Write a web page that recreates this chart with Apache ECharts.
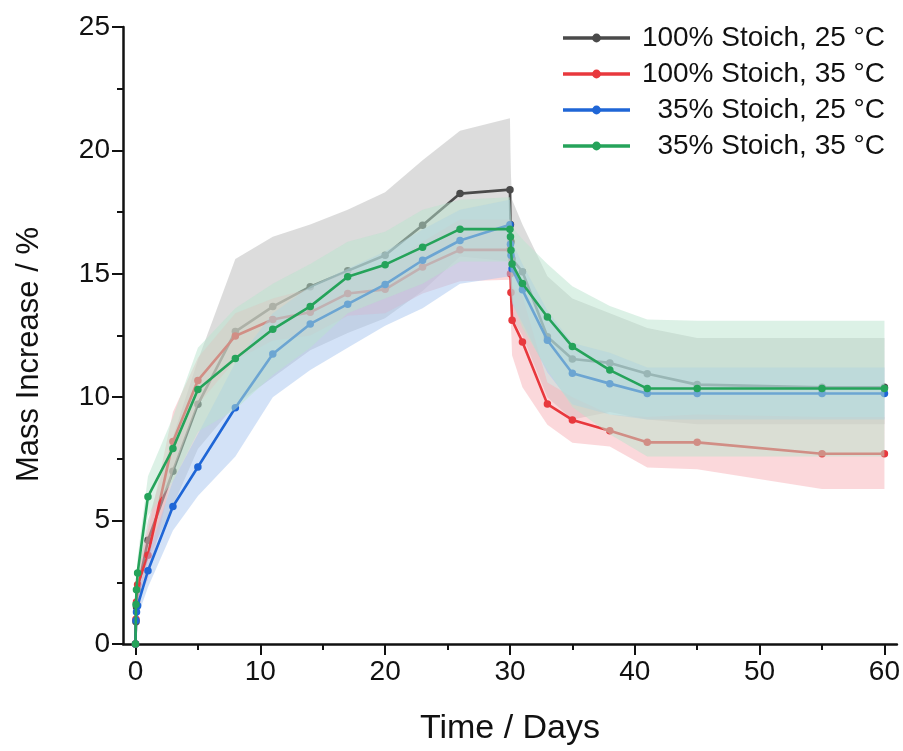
<!DOCTYPE html>
<html>
<head>
<meta charset="utf-8">
<script src="https://cdn.jsdelivr.net/npm/echarts@6/dist/echarts.min.js"></script>
<style>
  html, body { margin: 0; padding: 0; background: #fff; }
  #chart { width: 903px; height: 751px; }
</style>
</head>
<body>
<div id="chart"></div>
<script>
// Sampling times (days): uptake phase to day 30, then desorption to day 60
const days = [0, 0.04, 0.08, 0.17, 1, 3, 5, 8, 11, 14, 17, 20, 23, 26, 30,
  30.04, 30.08, 30.17, 31, 33, 35, 38, 41, 45, 55, 60];

const seriesNames = ['100% Stoich, 25 °C', '100% Stoich, 35 °C', '35% Stoich, 25 °C', '35% Stoich, 35 °C'];

// 100% Stoich, 25 °C
const s100c25 = [0, 0.9, 1.5, 2.2, 4.2, 7.0, 9.71, 12.66, 13.67, 14.48, 15.12, 15.75, 16.97, 18.25, 18.41,
  17.0, 16.3, 15.6, 15.08, 12.45, 11.55, 11.39, 10.95, 10.51, 10.4, 10.4];
const s100c25Hi = [0, 1.1, 1.9, 2.8, 5.0, 8.4, 11.5, 15.6, 16.5, 17.0, 17.6, 18.3, 19.6, 20.8, 21.3,
  20.0, 19.0, 18.0, 17.0, 14.9, 14.0, 13.4, 12.8, 12.4, 12.4, 12.4];
const s100c25Lo = [0, 0.7, 1.1, 1.6, 3.4, 5.6, 7.9, 9.7, 10.8, 11.9, 12.6, 13.2, 14.3, 15.7, 15.5,
  14.8, 14.3, 13.2, 12.5, 10.0, 9.1, 9.4, 9.1, 8.9, 8.9, 8.9];

// 100% Stoich, 35 °C
const s100c35 = [0, 1.0, 1.7, 2.4, 3.6, 8.2, 10.68, 12.48, 13.15, 13.44, 14.2, 14.37, 15.28, 15.97, 15.97,
  15.0, 14.24, 13.12, 12.24, 9.72, 9.08, 8.64, 8.17, 8.17, 7.71, 7.71];
const s100c35Hi = [0, 1.3, 2.1, 3.0, 4.6, 9.4, 11.6, 13.4, 14.0, 14.4, 15.1, 15.3, 16.3, 17.2, 17.2,
  16.2, 15.4, 14.5, 14.1, 10.6, 10.0, 9.3, 9.2, 9.3, 9.2, 9.2];
const s100c35Lo = [0, 0.7, 1.3, 1.8, 2.6, 7.0, 9.7, 11.5, 12.3, 12.5, 13.3, 13.4, 14.2, 14.7, 14.76,
  13.8, 13.0, 11.7, 10.4, 8.88, 8.15, 8.0, 7.15, 7.08, 6.28, 6.28];

// 35% Stoich, 25 °C
const s35c25 = [0, 0.95, 1.3, 1.55, 2.97, 5.57, 7.17, 9.57, 11.75, 12.97, 13.77, 14.57, 15.55, 16.35, 16.99,
  16.2, 15.75, 15.2, 14.35, 12.31, 10.97, 10.55, 10.15, 10.15, 10.15, 10.15];
const s35c25Hi = [0, 1.2, 1.7, 2.0, 3.6, 6.6, 8.5, 11.4, 13.4, 14.5, 15.2, 15.9, 16.8, 17.6, 18.0,
  17.4, 16.9, 16.3, 15.4, 13.5, 12.2, 11.8, 11.2, 11.2, 11.2, 11.2];
const s35c25Lo = [0, 0.7, 0.9, 1.1, 2.3, 4.6, 6.0, 7.6, 10.0, 11.1, 12.0, 12.9, 13.6, 14.6, 14.9,
  14.6, 14.3, 13.8, 13.0, 11.0, 9.7, 9.3, 9.1, 9.1, 9.1, 9.1];

// 35% Stoich, 35 °C
const s35c35 = [0, 1.6, 2.2, 2.88, 5.97, 7.92, 10.31, 11.57, 12.75, 13.68, 14.88, 15.37, 16.08, 16.81, 16.81,
  16.5, 15.95, 15.4, 14.61, 13.25, 12.05, 11.1, 10.35, 10.35, 10.35, 10.35];
const s35c35Hi = [0, 2.0, 2.7, 3.5, 6.8, 9.2, 12.0, 13.6, 14.6, 15.4, 16.3, 16.7, 17.6, 18.0, 18.1,
  17.8, 17.4, 16.9, 16.4, 15.4, 14.5, 13.7, 13.15, 13.1, 13.1, 13.1];
const s35c35Lo = [0, 1.2, 1.7, 2.3, 5.2, 6.6, 8.6, 9.5, 10.9, 12.0, 13.4, 14.0, 14.6, 15.5, 15.5,
  15.2, 14.5, 13.9, 12.8, 11.1, 9.6, 8.5, 7.6, 7.6, 7.6, 7.6];

// Axis ticks
const xMajorTicks = [0, 10, 20, 30, 40, 50, 60];
const xMinorTicks = [5, 15, 25, 35, 45, 55];

const FONT = "'Liberation Sans', Arial, sans-serif";
const FONT_NARROW = "'Liberation Sans Narrow', 'Arial Narrow', 'Liberation Sans', Arial, sans-serif";

const lineColors = ['#4a4a4a', '#e8383d', '#1f66d6', '#25a35a'];
const bandColors = [
  'rgba(185,185,185,0.5)',
  'rgba(247,178,184,0.5)',
  'rgba(168,198,240,0.5)',
  'rgba(185,228,205,0.5)'
];

const means = [s100c25, s100c35, s35c25, s35c35];
const highs = [s100c25Hi, s100c35Hi, s35c25Hi, s35c35Hi];
const lows = [s100c25Lo, s100c35Lo, s35c25Lo, s35c35Lo];

function pairs(values) {
  return values.map((v, i) => [days[i], v]);
}

// Shaded spread band: polygon along the upper bound and back along the lower bound
function bandSeries(k) {
  const hi = highs[k], lo = lows[k];
  return {
    type: 'custom',
    name: 'band' + k,
    silent: true,
    z: 2 + 2 * k,
    data: [[days[0], lo[0]]],
    encode: { x: 0, y: 1 },
    renderItem: function (params, api) {
      const pts = [];
      for (let i = 0; i < days.length; i++) pts.push(api.coord([days[i], hi[i]]));
      for (let i = days.length - 1; i >= 0; i--) pts.push(api.coord([days[i], lo[i]]));
      return {
        type: 'polygon',
        shape: { points: pts },
        style: { fill: bandColors[k], stroke: null }
      };
    }
  };
}

function lineSeries(k) {
  return {
    type: 'line',
    name: seriesNames[k],
    z: 3 + 2 * k,
    data: pairs(means[k]),
    symbol: 'circle',
    symbolSize: 7.5,
    showSymbol: true,
    color: lineColors[k],
    lineStyle: { width: 2.6, color: lineColors[k] },
    itemStyle: { color: lineColors[k] },
    emphasis: { disabled: true }
  };
}

const series = [];
for (let k = 0; k < 4; k++) {
  series.push(bandSeries(k));
  series.push(lineSeries(k));
}

const chart = echarts.init(document.getElementById('chart'), null, { renderer: 'canvas' });
chart.setOption({
  animation: false,
  backgroundColor: '#ffffff',
  textStyle: { fontFamily: FONT },
  grid: { left: 123, top: 27, width: 777, height: 625, containLabel: false },
  legend: {
    data: seriesNames,
    orient: 'vertical',
    right: 13,
    top: 19,
    itemWidth: 67,
    itemHeight: 11,
    itemGap: 8,
    lineStyle: { width: 3.5 },
    textStyle: {
      fontFamily: FONT,
      color: '#111',
      fontSize: 28,
      lineHeight: 28,
      rich: { r: { width: 250, align: 'right', fontSize: 28, fontFamily: FONT, color: '#111' } }
    },
    formatter: function (name) { return '{r|' + name + '}'; }
  },
  xAxis: [
    {
      type: 'value',
      min: -1,
      max: 61,
      name: 'Time / Days',
      nameLocation: 'middle',
      nameGap: 68,
      nameTextStyle: { fontFamily: FONT, fontSize: 34, color: '#111' },
      axisLine: { show: true, onZero: false, lineStyle: { color: '#111', width: 2.5 } },
      axisTick: { show: true, length: 11, lineStyle: { color: '#111', width: 2 }, customValues: xMajorTicks },
      axisLabel: { fontFamily: FONT_NARROW, fontSize: 28, color: '#111', margin: 14, customValues: xMajorTicks },
      splitLine: { show: false }
    },
    {
      type: 'value',
      min: -1,
      max: 61,
      position: 'bottom',
      axisLine: { show: false, onZero: false },
      axisTick: { show: true, length: 6, lineStyle: { color: '#111', width: 2 }, customValues: xMinorTicks },
      axisLabel: { show: false },
      splitLine: { show: false }
    }
  ],
  yAxis: {
    type: 'value',
    min: 0,
    max: 25,
    interval: 5,
    name: 'Mass Increase / %',
    nameLocation: 'middle',
    nameGap: 78,
    nameTextStyle: { fontFamily: FONT, fontSize: 31, color: '#111', padding: [0, 38, 0, 0] },
    axisLine: { show: true, onZero: false, lineStyle: { color: '#111', width: 2.5 } },
    axisTick: { show: true, length: 11, lineStyle: { color: '#111', width: 2 } },
    minorTick: { show: true, splitNumber: 2, length: 6, lineStyle: { color: '#111', width: 2 } },
    axisLabel: { fontFamily: FONT, fontSize: 28, color: '#111', margin: 13 },
    splitLine: { show: false }
  },
  series: series
});
</script>
</body>
</html>
